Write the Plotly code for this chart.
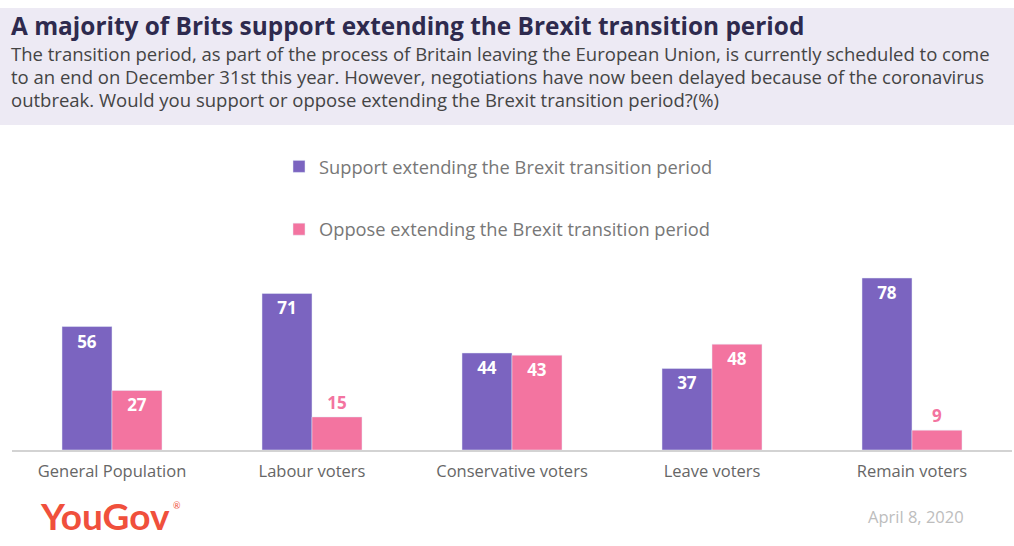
import plotly.graph_objects as go

categories = ["General Population", "Labour voters", "Conservative voters", "Leave voters", "Remain voters"]
support = [56, 71, 44, 37, 78]
oppose = [27, 15, 43, 48, 9]
support_name = "Support extending the Brexit transition period"
oppose_name = "Oppose extending the Brexit transition period"

title = "A majority of Brits support extending the Brexit transition period"
subtitle_lines = [
    "The transition period, as part of the process of Britain leaving the European Union, is currently scheduled to come",
    "to an end on December 31st this year. However, negotiations have now been delayed because of the coronavirus",
    "outbreak. Would you support or oppose extending the Brexit transition period?(%)",
]
date_text = "April 8, 2020"

PURPLE = "#7B64C0"
PINK = "#F374A0"
FONT = "Open Sans"

W, H = 1014, 546
ML, MR, MT, MB = 12, 2, 260, 96
PW = W - ML - MR
PH = H - MT - MB


def px_y(y):
    return (H - MB - y) / PH


def px_x(x):
    return (x - ML) / PW


def positions(vals, threshold=20):
    return ["inside" if v >= threshold else "outside" for v in vals]


fig = go.Figure()
fig.add_trace(go.Bar(
    x=categories, y=support, name=support_name, marker_color=PURPLE,
    text=support, textposition=positions(support), insidetextanchor="end",
    insidetextfont=dict(color="white", size=17, family=FONT, weight="bold"),
    outsidetextfont=dict(color=PURPLE, size=17, family=FONT, weight="bold"),
    legendgroup="s", cliponaxis=False,
))
fig.add_trace(go.Bar(
    x=categories, y=oppose, name=oppose_name, marker_color=PINK,
    text=oppose, textposition=positions(oppose), insidetextanchor="end",
    insidetextfont=dict(color="white", size=17, family=FONT, weight="bold"),
    outsidetextfont=dict(color=PINK, size=17, family=FONT, weight="bold"),
    legendgroup="o", cliponaxis=False,
))

annotations = [
    dict(text=f"<b>{title}</b>", xref="paper", yref="paper", x=px_x(9), y=px_y(25),
         xanchor="left", yanchor="middle", showarrow=False,
         font=dict(size=24.4, color="#2E2A4E", family=FONT)),
]
for i, line in enumerate(subtitle_lines):
    annotations.append(dict(
        text=line, xref="paper", yref="paper", x=px_x(9), y=px_y(53 + 23 * i),
        xanchor="left", yanchor="middle", showarrow=False, align="left",
        font=dict(size=18.5, color="#444444", family=FONT)))
annotations += [
    dict(text="<b>YouGov</b>", xref="paper", yref="paper",
         x=px_x(38), y=px_y(515), xanchor="left", yanchor="middle", showarrow=False,
         font=dict(size=37, color="#F0503C", family="Lato")),
    dict(text="®", xref="paper", yref="paper",
         x=px_x(171), y=px_y(505), xanchor="left", yanchor="middle", showarrow=False,
         font=dict(size=9, color="#F0503C", family="Lato")),
    dict(text=date_text, xref="paper", yref="paper", x=px_x(966), y=px_y(516),
         xanchor="right", yanchor="middle", showarrow=False,
         font=dict(size=16.5, color="#BDBDBD", family=FONT)),
]

fig.update_layout(
    width=W, height=H,
    margin=dict(l=ML, r=MR, t=MT, b=MB, pad=0),
    paper_bgcolor="white", plot_bgcolor="white",
    barmode="group", bargap=0.5, bargroupgap=0,
    font=dict(family=FONT, color="#666666"),
    legend=dict(
        orientation="v", x=px_x(279), xanchor="left", y=px_y(148), yanchor="top",
        font=dict(size=18.3, color="#777777", family=FONT),
        tracegroupgap=36, bgcolor="rgba(0,0,0,0)",
    ),
    xaxis=dict(
        showline=True, linecolor="#D3D3D3", linewidth=2, ticks="",
        tickfont=dict(size=16.5, color="#666666", family=FONT),
        ticklabelstandoff=5,
        showgrid=False, fixedrange=True,
    ),
    yaxis=dict(range=[0, PH / 2.205], visible=False, showgrid=False, fixedrange=True),
    shapes=[dict(
        type="rect", xref="paper", yref="paper",
        x0=px_x(0), x1=px_x(W), y0=px_y(125), y1=px_y(8),
        fillcolor="#EDEAF4", line=dict(width=0), layer="below",
    )],
    annotations=annotations,
)

fig.write_html("out.html", config={"displayModeBar": False},
               post_script="document.body.style.margin='0';")
